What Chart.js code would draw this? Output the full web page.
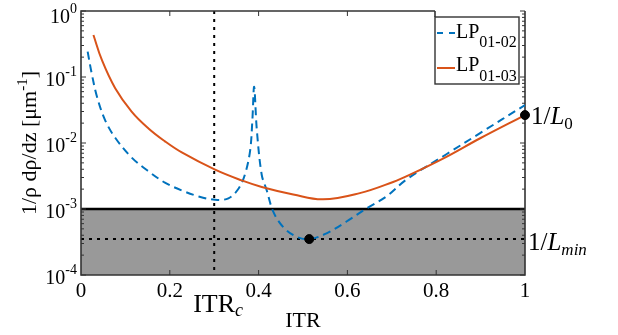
<!DOCTYPE html>
<html>
<head>
<meta charset="utf-8">
<script src="https://cdn.jsdelivr.net/npm/chart.js@4.4.1/dist/chart.umd.min.js"></script>
<style>
  html, body { margin: 0; padding: 0; background: #fff; overflow: hidden; }
  canvas { display: block; }
</style>
</head>
<body>
<canvas id="c" width="618" height="335"></canvas>
<script>
// LP01-02 mode: normalised coupling rate along the taper
const itr0102 = [0.015, 0.024, 0.036, 0.054, 0.077, 0.114, 0.152, 0.189, 0.227, 0.265,
                 0.302, 0.332, 0.355, 0.370, 0.381, 0.386, 0.390, 0.396, 0.407, 0.418,
                 0.433, 0.455, 0.485, 0.514, 0.553, 0.598, 0.643, 0.688, 0.733, 0.823,
                 0.898, 1.0];
const rate0102 = [0.242, 0.114, 0.0501, 0.0224, 0.0120, 0.00603, 0.00372, 0.00251, 0.00191, 0.00155,
                  0.00138, 0.00145, 0.00204, 0.00347, 0.00776, 0.0224, 0.0708, 0.0158, 0.0033, 0.00195,
                  0.000912, 0.000537, 0.000380, 0.000350, 0.000427, 0.000646, 0.00102, 0.00155, 0.00280, 0.00676,
                  0.0140, 0.0376];

// LP01-03 mode
const itr0103 = [0.028, 0.047, 0.077, 0.114, 0.152, 0.189, 0.227, 0.302, 0.362, 0.407,
                 0.478, 0.545, 0.628, 0.703, 0.741, 0.823, 0.898, 1.0];
const rate0103 = [0.433, 0.181, 0.0676, 0.0299, 0.0166, 0.0106, 0.00719, 0.00394, 0.00271, 0.00216,
                  0.00166, 0.00140, 0.00174, 0.00257, 0.00331, 0.00617, 0.0117, 0.0265];

// Axis ticks
const xTicks = [0, 0.2, 0.4, 0.6, 0.8, 1];
const xTickLabels = ['0', '0.2', '0.4', '0.6', '0.8', '1'];
const yDecades = [1, 0.1, 0.01, 0.001, 0.0001];
const yExponents = ['0', '-1', '-2', '-3', '-4'];

// Reference markers
const ITR_C = 0.3;          // critical taper ratio
const ITR_MIN = 0.514;      // location of 1/Lmin
const INV_L0 = 0.0265;      // 1/L0 at ITR = 1
const INV_LMIN = 0.000350;  // 1/Lmin
const BAND_LOW = 1e-4, BAND_HIGH = 1e-3;  // non-adiabatic region

const BLUE = '#0072BD', ORANGE = '#D95319', AXIS = '#333333';
const SERIF = '"Liberation Serif", "Times New Roman", serif';

function drawRuns(ctx, parts, x, y, align) {
  let total = 0;
  parts.forEach(p => { ctx.font = p.f; p.w = ctx.measureText(p.t).width; total += p.w; });
  let cx = align === 'center' ? x - total / 2 : align === 'right' ? x - total : x;
  ctx.textAlign = 'left';
  ctx.textBaseline = 'alphabetic';
  parts.forEach(p => { ctx.font = p.f; ctx.fillText(p.t, cx, y + (p.dy || 0)); cx += p.w; });
}

function seg(ctx, x1, y1, x2, y2) {
  ctx.beginPath(); ctx.moveTo(x1, y1); ctx.lineTo(x2, y2); ctx.stroke();
}

const decor = {
  id: 'decor',
  beforeDatasetsDraw(chart) {
    const { ctx, chartArea: a, scales: { x, y } } = chart;
    ctx.save();
    // grey band
    const yHi = y.getPixelForValue(BAND_HIGH), yLo = y.getPixelForValue(BAND_LOW);
    ctx.fillStyle = '#999999';
    ctx.fillRect(a.left, yHi, a.right - a.left, yLo - yHi);

    // dotted guides
    ctx.strokeStyle = '#000';
    ctx.lineWidth = 2;
    ctx.setLineDash([3, 5]);
    const xc = x.getPixelForValue(ITR_C);
    seg(ctx, xc, a.top, xc, a.bottom);
    const ym = y.getPixelForValue(INV_LMIN);
    seg(ctx, a.left, ym, a.right, ym);
    ctx.setLineDash([]);

    // band upper edge
    ctx.lineWidth = 2.5;
    seg(ctx, a.left, yHi, a.right, yHi);

    // axes box (top edge interrupted where the legend sits)
    const legLeft = a.right - 90;
    ctx.strokeStyle = AXIS;
    ctx.lineWidth = 1.6;
    ctx.beginPath();
    ctx.moveTo(legLeft, a.top);
    ctx.lineTo(a.left, a.top);
    ctx.lineTo(a.left, a.bottom);
    ctx.lineTo(a.right, a.bottom);
    ctx.lineTo(a.right, a.top);
    ctx.stroke();
    seg(ctx, legLeft, a.top, legLeft, a.top + 6);

    // ticks, pointing inward
    ctx.lineWidth = 1;
    xTicks.forEach(v => {
      if (v === 0 || v === 1) return;
      const px = x.getPixelForValue(v);
      seg(ctx, px, a.bottom, px, a.bottom - 5);
      if (px < legLeft) seg(ctx, px, a.top, px, a.top + 5);
    });
    yDecades.forEach(d => {
      const py = y.getPixelForValue(d);
      seg(ctx, a.left, py, a.left + 5, py);
      seg(ctx, a.right, py, a.right - 5, py);
      if (d >= 1) return;
      for (let k = 2; k <= 9; k++) {
        const pm = y.getPixelForValue(d * k);
        seg(ctx, a.left, pm, a.left + 3, pm);
        seg(ctx, a.right, pm, a.right - 3, pm);
      }
    });
    ctx.restore();
  },
  afterDraw(chart) {
    const { ctx, chartArea: a, scales: { x, y } } = chart;
    ctx.save();
    ctx.fillStyle = '#000';

    // x tick labels
    xTicks.forEach((v, i) => {
      drawRuns(ctx, [{ t: xTickLabels[i], f: `21px ${SERIF}` }], x.getPixelForValue(v), a.bottom + 22, 'center');
    });
    // y tick labels 10^n
    yDecades.forEach((d, i) => {
      const py = y.getPixelForValue(d);
      drawRuns(ctx, [
        { t: '10', f: `20px ${SERIF}` },
        { t: yExponents[i], f: `14px ${SERIF}`, dy: -10 }
      ], a.left - 4, Math.max(py + 9, 23), 'right');
    });

    // axis titles
    drawRuns(ctx, [{ t: 'ITR', f: `22px ${SERIF}` }], (a.left + a.right) / 2, a.bottom + 52, 'center');
    const xc = x.getPixelForValue(ITR_C);
    drawRuns(ctx, [
      { t: 'ITR', f: `26px ${SERIF}` },
      { t: 'c', f: `italic 18px ${SERIF}`, dy: 4 }
    ], xc - 21, a.bottom + 37, 'left');

    ctx.save();
    ctx.translate(36, (a.top + a.bottom) / 2);
    ctx.rotate(-Math.PI / 2);
    drawRuns(ctx, [
      { t: '1/\u03C1 d\u03C1/dz [\u03BCm', f: `22px ${SERIF}` },
      { t: '-1', f: `15px ${SERIF}`, dy: -9 },
      { t: ']', f: `22px ${SERIF}` }
    ], 0, 0, 'center');
    ctx.restore();

    // right-hand annotations
    const y0 = y.getPixelForValue(INV_L0);
    drawRuns(ctx, [
      { t: '1/', f: `25px ${SERIF}` },
      { t: 'L', f: `italic 25px ${SERIF}` },
      { t: '0', f: `17px ${SERIF}`, dy: 5 }
    ], a.right + 6, y0 + 9, 'left');
    const ym = y.getPixelForValue(INV_LMIN);
    drawRuns(ctx, [
      { t: '1/', f: `25px ${SERIF}` },
      { t: 'L', f: `italic 25px ${SERIF}` },
      { t: 'min', f: `italic 17px ${SERIF}`, dy: 5 }
    ], a.right + 3, ym + 11, 'left');

    // legend
    const lx = a.right - 90, ly = a.top + 6, lw = 84, lh = 67;
    ctx.fillStyle = '#fff';
    ctx.fillRect(lx, ly, lw, lh);
    ctx.strokeStyle = AXIS;
    ctx.lineWidth = 1.4;
    ctx.strokeRect(lx, ly, lw, lh);
    ctx.lineWidth = 2;
    ctx.strokeStyle = BLUE;
    ctx.setLineDash([6, 6]);
    seg(ctx, lx + 2, ly + 16, lx + 20, ly + 16);
    ctx.setLineDash([]);
    ctx.strokeStyle = ORANGE;
    seg(ctx, lx + 2, ly + 51, lx + 20, ly + 51);
    ctx.fillStyle = '#000';
    drawRuns(ctx, [
      { t: 'LP', f: `20px ${SERIF}` },
      { t: '01-02', f: `16px ${SERIF}`, dy: 9 }
    ], lx + 21, ly + 21, 'left');
    drawRuns(ctx, [
      { t: 'LP', f: `20px ${SERIF}` },
      { t: '01-03', f: `16px ${SERIF}`, dy: 10 }
    ], lx + 21, ly + 54, 'left');
    ctx.restore();
  }
};

const toPoints = (xs, ys) => xs.map((v, i) => ({ x: v, y: ys[i] }));

new Chart(document.getElementById('c'), {
  type: 'line',
  data: {
    datasets: [
      {
        type: 'scatter',
        label: 'markers',
        data: [{ x: ITR_MIN, y: INV_LMIN }, { x: 1, y: INV_L0 }],
        pointRadius: 4.5,
        pointBackgroundColor: '#000',
        pointBorderColor: '#000',
        showLine: false,
        clip: false
      },
      {
        label: 'LP01-03',
        data: toPoints(itr0103, rate0103),
        borderColor: ORANGE,
        borderWidth: 2,
        pointRadius: 0,
        tension: 0.4,
        fill: false
      },
      {
        label: 'LP01-02',
        data: toPoints(itr0102, rate0102),
        borderColor: BLUE,
        borderWidth: 2,
        borderDash: [8, 5],
        pointRadius: 0,
        tension: 0.35,
        fill: false
      }
    ]
  },
  options: {
    responsive: false,
    animation: false,
    devicePixelRatio: 1,
    layout: { padding: { left: 81, right: 93, top: 11, bottom: 60 } },
    plugins: { legend: { display: false }, tooltip: { enabled: false } },
    scales: {
      x: { type: 'linear', min: 0, max: 1, display: false },
      y: { type: 'logarithmic', min: 1e-4, max: 1, display: false }
    }
  },
  plugins: [decor]
});
</script>
</body>
</html>
